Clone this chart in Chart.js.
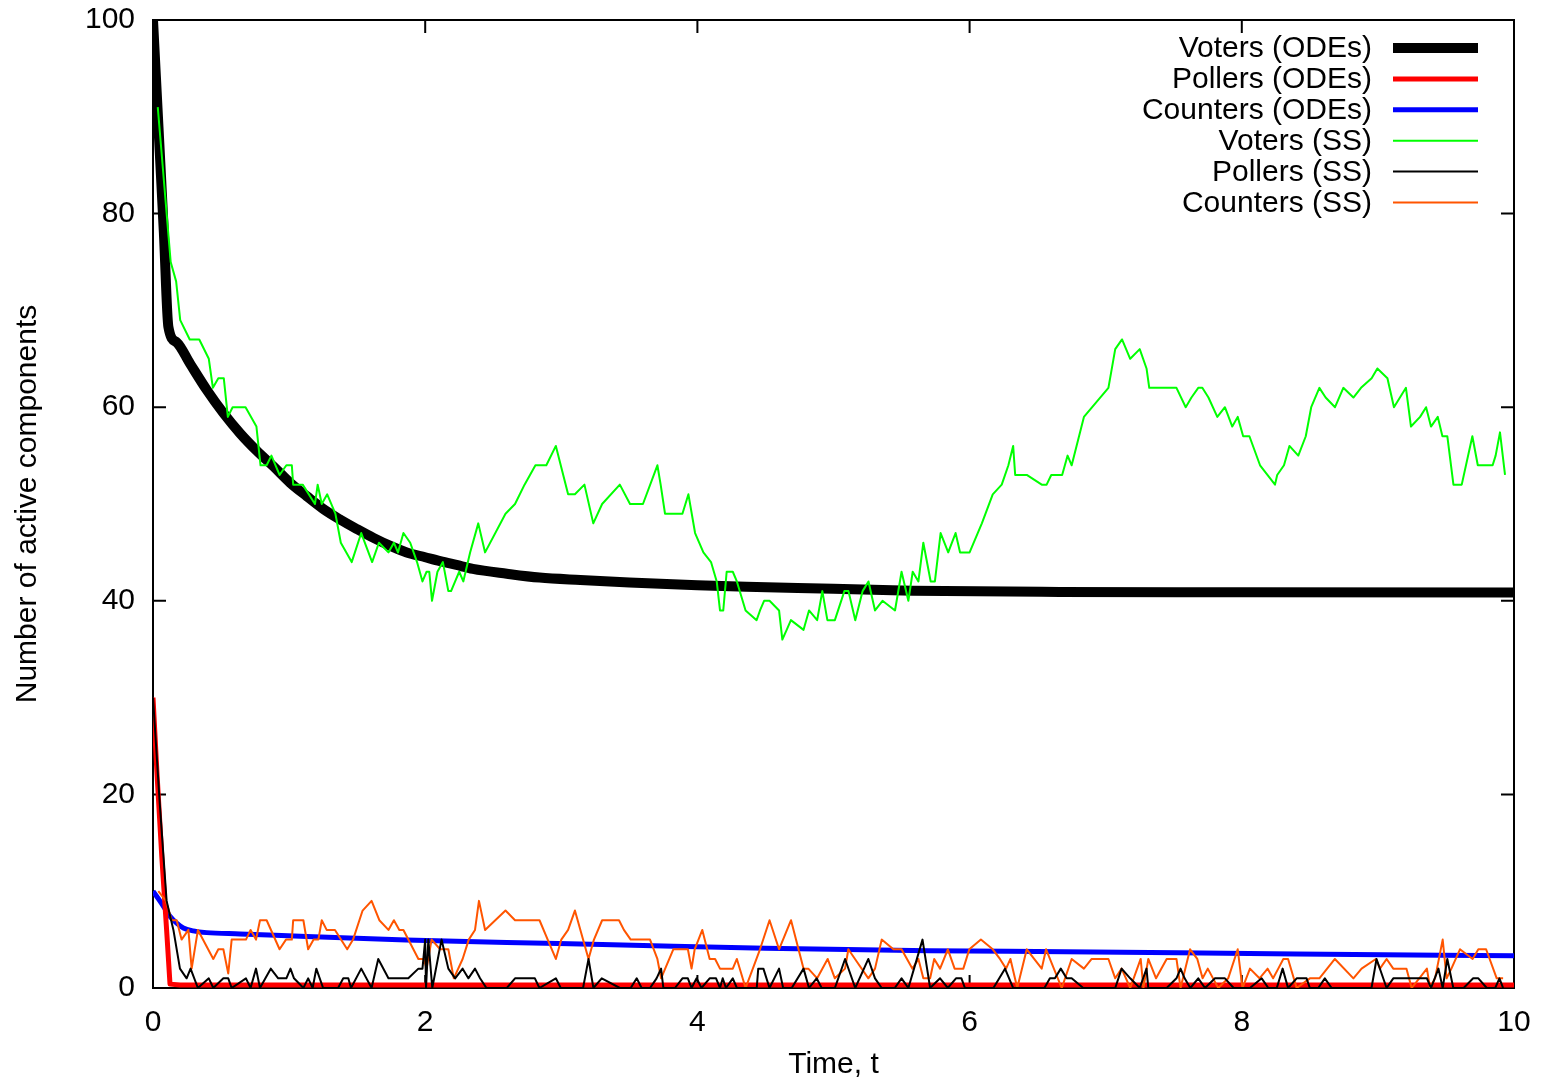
<!DOCTYPE html>
<html>
<head>
<meta charset="utf-8">
<script src="https://cdn.jsdelivr.net/npm/chart.js@4.4.1/dist/chart.umd.min.js"></script>
<style>
  html, body { margin: 0; padding: 0; background: #fff; }
  #wrap { width: 1546px; height: 1085px; }
</style>
</head>
<body>
<div id="wrap"><canvas id="c"></canvas></div>
<script>
// axis ticks
var xTicks = [0, 2, 4, 6, 8, 10];
var yTicks = [0, 20, 40, 60, 80, 100];

// ODE solutions, [time, value]
var votersOde = [[0,100],[0.04,89],[0.08,78],[0.113,68.3],[0.174,66.7],[0.272,64.5],[0.394,61.8],
  [0.517,59.4],[0.64,57.3],[0.762,55.5],[0.884,53.9],[1.007,52.2],[1.13,50.8],[1.25,49.5],[1.374,48.4],
  [1.5,47.4],[1.62,46.5],[1.74,45.7],[1.864,45.0],[2.0,44.5],[2.11,44.1],[2.23,43.7],[2.35,43.3],
  [2.6,42.8],[2.84,42.4],[3.14,42.15],[3.5,41.9],[4.0,41.6],[4.36,41.45],[5.0,41.25],[5.58,41.05],
  [6.66,40.92],[8,40.88],[10,40.85]];
var pollersOde = [[0,30],[0.03,22],[0.065,13.5],[0.1,6],[0.125,0.4],[0.2,0.3],[10,0.3]];
var countersOde = [[0,10],[0.06,8.8],[0.125,7.4],[0.174,6.7],[0.223,6.2],[0.296,5.9],[0.394,5.72],
  [0.64,5.59],[1.13,5.31],[1.86,4.97],[2.6,4.69],[3.3,4.5],[4.5,4.1],[5.7,3.86],[6.7,3.75],
  [8.4,3.51],[10,3.34]];

// stochastic simulation runs, [time, value]
var votersSS = [[0.035,91],[0.13,75],[0.17,73],[0.2,69],[0.27,67],[0.34,67],[0.41,65],[0.44,62],
  [0.48,63],[0.52,63],[0.55,59],[0.585,60],[0.68,60],[0.76,58],[0.79,54],[0.835,54],[0.87,55],
  [0.93,53],[0.98,54],[1.02,54],[1.03,52],[1.1,52],[1.19,50],[1.21,52],[1.24,50],[1.28,51],
  [1.34,49],[1.38,46],[1.46,44],[1.53,47],[1.61,44],[1.66,46],[1.73,45],[1.77,46],[1.8,45],
  [1.84,47],[1.89,46],[1.94,44],[1.98,42],[2.01,43],[2.03,43],[2.05,40],[2.09,43],[2.13,44],
  [2.17,41],[2.19,41],[2.22,42],[2.25,43],[2.28,42],[2.33,45],[2.39,48],[2.44,45],[2.59,49],
  [2.66,50],[2.73,52],[2.81,54],[2.89,54],[2.96,56],[3.05,51],[3.1,51],[3.17,52],[3.235,48],
  [3.3,50],[3.43,52],[3.505,50],[3.6,50],[3.706,54],[3.73,52],[3.762,49],[3.89,49],[3.934,51],
  [3.983,47],[4.044,45],[4.1,44],[4.142,42],[4.166,39],[4.19,39],[4.215,43],[4.26,43],[4.29,42],
  [4.354,39],[4.435,38],[4.46,39],[4.49,40],[4.53,40],[4.6,39],[4.624,36],[4.656,37],[4.687,38],
  [4.78,37],[4.82,39],[4.88,38],[4.918,41],[4.955,38],[5.01,38],[5.08,41],[5.11,41],[5.16,38],
  [5.214,41],[5.257,42],[5.305,39],[5.36,40],[5.452,39],[5.5,43],[5.55,40],[5.582,43],[5.624,42],
  [5.66,46],[5.714,42],[5.745,42],[5.787,47],[5.843,45],[5.897,47],[5.93,45],[6.0,45],[6.09,48],
  [6.17,51],[6.236,52],[6.285,54],[6.32,56],[6.335,53],[6.42,53],[6.53,52],[6.566,52],[6.6,53],
  [6.68,53],[6.72,55],[6.75,54],[6.84,59],[7.02,62],[7.07,66],[7.12,67],[7.18,65],[7.25,66],
  [7.3,64],[7.32,62],[7.52,62],[7.588,60],[7.63,61],[7.68,62],[7.71,62],[7.755,61],[7.82,59],
  [7.876,60],[7.93,58],[7.97,59],[8.01,57],[8.056,57],[8.134,54],[8.244,52],[8.26,53],[8.31,54],
  [8.35,56],[8.415,55],[8.47,57],[8.51,60],[8.57,62],[8.616,61],[8.685,60],[8.746,62],[8.82,61],
  [8.876,62],[8.954,63],[8.996,64],[9.07,63],[9.118,60],[9.206,62],[9.243,58],[9.31,59],[9.354,60],
  [9.39,58],[9.44,59],[9.474,57],[9.51,57],[9.555,52],[9.616,52],[9.694,57],[9.734,54],[9.843,54],
  [9.865,55],[9.897,57.4],[9.934,53]];
var pollersSS = [[0,30],[0.05,19],[0.1,9],[0.15,6],[0.198,2],[0.247,1],[0.276,2],[0.33,0],[0.41,1],
  [0.443,0],[0.517,1],[0.553,1],[0.578,0],[0.683,1],[0.717,0],[0.757,2],[0.786,0],[0.865,2],
  [0.92,1],[0.98,1],[1.01,2],[1.036,1],[1.105,0],[1.14,1],[1.173,0],[1.2,2],[1.25,0],[1.36,0],
  [1.398,1],[1.435,1],[1.455,0],[1.53,2],[1.606,0],[1.655,3],[1.73,1],[1.876,1],[1.95,2],[1.98,2],
  [2.0,5],[2.006,0],[2.023,5],[2.052,0],[2.12,5],[2.17,2],[2.22,1],[2.275,2],[2.317,1],[2.366,2],
  [2.403,1],[2.45,0],[2.6,0],[2.66,1],[2.806,1],[2.839,0],[2.96,1],[2.996,0],[3.16,0],[3.2,3],
  [3.236,0],[3.297,1],[3.43,0],[3.51,0],[3.554,1],[3.59,0],[3.652,0],[3.7,1],[3.733,2],[3.75,0],
  [3.835,0],[3.89,1],[3.93,1],[3.957,0],[3.994,1],[4.03,0],[4.09,1],[4.137,1],[4.166,0],[4.186,1],
  [4.21,0],[4.26,1],[4.29,0],[4.436,0],[4.447,2],[4.485,2],[4.53,0],[4.6,2],[4.63,0],[4.693,0],
  [4.78,2],[4.82,0],[4.876,1],[4.913,0],[5.01,0],[5.085,3],[5.16,0],[5.256,3],[5.305,1],[5.354,0],
  [5.45,0],[5.5,1],[5.55,0],[5.654,5],[5.71,0],[5.783,1],[5.84,0],[5.9,1],[5.94,1],[5.966,0],
  [6.175,0],[6.26,2],[6.32,0],[6.55,0],[6.59,1],[6.627,1],[6.67,2],[6.713,1],[6.75,1],[6.835,0],
  [7.07,0],[7.117,2],[7.18,1],[7.25,0],[7.3,2],[7.313,0],[7.448,0],[7.52,1],[7.55,2],[7.58,1],
  [7.622,0],[7.68,1],[7.73,0],[7.803,1],[7.876,1],[7.94,0],[8.06,0],[8.146,1],[8.195,0],[8.257,0],
  [8.3,2],[8.34,0],[8.403,1],[8.476,1],[8.5,0],[8.562,0],[8.61,1],[8.66,0],[8.953,0],[8.99,3],
  [9.064,0],[9.113,1],[9.36,1],[9.39,0],[9.445,2],[9.476,0],[9.51,3],[9.554,0],[9.63,0],[9.7,1],
  [9.738,1],[9.8,0],[9.862,0],[9.893,1],[9.92,0]];
var countersSS = [[0.039,10],[0.095,9],[0.137,7],[0.174,7],[0.21,5],[0.26,6],[0.284,2],[0.33,6],
  [0.443,3],[0.48,4],[0.517,4],[0.553,1.5],[0.578,5],[0.683,5],[0.717,6],[0.757,5],[0.786,7],
  [0.835,7],[0.93,4],[0.977,5],[1.02,5],[1.03,7],[1.105,7],[1.14,4],[1.18,5],[1.215,5],[1.24,7],
  [1.276,6],[1.337,6],[1.427,4],[1.47,5],[1.54,8],[1.606,9],[1.663,7],[1.73,6],[1.77,7],[1.81,6],
  [1.84,6],[1.95,3],[1.99,3],[2.01,2],[2.047,5],[2.11,4],[2.17,4],[2.21,1],[2.275,3],[2.32,5],
  [2.366,6],[2.395,9],[2.44,6],[2.59,8],[2.66,7],[2.84,7],[2.9,5],[2.96,3],[3.0,5],[3.05,6],
  [3.1,8],[3.2,3],[3.24,5],[3.3,7],[3.424,7],[3.46,6],[3.51,5],[3.652,5],[3.706,3],[3.733,1],
  [3.823,4],[3.93,4],[3.957,2],[3.98,4],[4.036,6],[4.09,3],[4.13,3],[4.166,2],[4.26,2],[4.29,3],
  [4.354,0],[4.46,4],[4.53,7],[4.6,4],[4.688,7],[4.78,2],[4.815,2],[4.88,1],[4.957,3],[5.01,1],
  [5.085,2],[5.109,4],[5.158,3],[5.256,1],[5.305,2],[5.354,5],[5.44,4],[5.5,4],[5.58,2],[5.624,3],
  [5.66,1],[5.71,1],[5.74,3],[5.783,2],[5.84,4],[5.89,2],[5.954,2],[5.998,4],[6.083,5],[6.17,4],
  [6.223,3],[6.268,2],[6.3,3],[6.35,0],[6.42,4],[6.53,2],[6.562,4],[6.677,0],[6.75,3],[6.84,2],
  [6.897,3],[7.02,3],[7.07,1],[7.117,2],[7.18,0],[7.257,3],[7.277,0],[7.313,3],[7.37,1],[7.448,3],
  [7.52,3],[7.55,0],[7.62,4],[7.673,3],[7.712,1],[7.75,2],[7.827,0],[7.9,1],[7.97,4],[8.005,0],
  [8.06,2],[8.13,1],[8.19,2],[8.23,1],[8.268,2],[8.305,3],[8.34,3],[8.403,0],[8.5,1],[8.57,1],
  [8.684,3],[8.82,1],[8.88,2],[8.985,3],[9.015,2],[9.064,3],[9.113,2],[9.21,2],[9.248,0],[9.36,2],
  [9.383,0],[9.42,1],[9.476,5],[9.505,1],[9.54,2],[9.603,4],[9.696,3],[9.738,4],[9.795,4],
  [9.873,1],[9.92,1]];

var FONT = '"Liberation Sans", Arial, Helvetica, sans-serif';
var FSIZE = 30;

function pts(arr) {
  return arr.map(function(p){ return {x: p[0], y: p[1]}; });
}

function series(label, arr, color, width, order, smooth) {
  return {
    label: label,
    data: pts(arr),
    borderColor: color,
    backgroundColor: color,
    borderWidth: width,
    pointRadius: 0,
    tension: 0,
    cubicInterpolationMode: smooth ? 'monotone' : 'default',
    fill: false,
    borderJoinStyle: 'round',
    order: order
  };
}

// border box and inside ticks, gnuplot style
var frame = {
  id: 'frame',
  beforeDatasetsDraw: function(chart) {
    var ctx = chart.ctx, a = chart.chartArea;
    var xs = chart.scales.x, ys = chart.scales.y;
    var len = 13;
    ctx.save();
    ctx.strokeStyle = '#000';
    ctx.lineWidth = 2;
    ctx.strokeRect(a.left, a.top, a.right - a.left, a.bottom - a.top);
    ctx.beginPath();
    xTicks.forEach(function(v){
      var px = xs.getPixelForValue(v);
      ctx.moveTo(px, a.bottom); ctx.lineTo(px, a.bottom - len);
      ctx.moveTo(px, a.top); ctx.lineTo(px, a.top + len);
    });
    yTicks.forEach(function(v){
      var py = ys.getPixelForValue(v);
      ctx.moveTo(a.left, py); ctx.lineTo(a.left + len, py);
      ctx.moveTo(a.right, py); ctx.lineTo(a.right - len, py);
    });
    ctx.stroke();
    ctx.restore();
  },
  afterDraw: function(chart) {
    // key in the top right corner: label, then line sample
    var ctx = chart.ctx;
    var textRight = 1372, x0 = 1393, x1 = 1478, y0 = 48, step = 30.9;
    ctx.save();
    ctx.font = FSIZE + 'px ' + FONT;
    ctx.textAlign = 'right';
    ctx.textBaseline = 'middle';
    chart.data.datasets.forEach(function(ds, i){
      var y = y0 + i * step;
      ctx.fillStyle = '#000';
      ctx.fillText(ds.label, textRight, y + 1);
      ctx.strokeStyle = ds.borderColor;
      ctx.lineWidth = ds.borderWidth;
      ctx.beginPath();
      ctx.moveTo(x0, y); ctx.lineTo(x1, y);
      ctx.stroke();
    });
    ctx.restore();
  }
};

new Chart(document.getElementById('c'), {
  type: 'line',
  data: {
    datasets: [
      series('Voters (ODEs)', votersOde, '#000000', 10, 3, true),
      series('Pollers (ODEs)', pollersOde, '#ff0000', 5, 3, false),
      series('Counters (ODEs)', countersOde, '#0000ff', 5, 3, true),
      series('Voters (SS)', votersSS, '#00ff00', 2, 2, false),
      series('Pollers (SS)', pollersSS, '#000000', 2, 1, false),
      series('Counters (SS)', countersSS, '#ff5500', 2, 1, false)
    ]
  },
  options: {
    responsive: true,
    maintainAspectRatio: false,
    animation: false,
    devicePixelRatio: 1,
    layout: { padding: { left: 0, right: 32, top: 20, bottom: 0 } },
    plugins: {
      legend: { display: false },
      tooltip: { enabled: false }
    },
    scales: {
      x: {
        type: 'linear',
        min: 0, max: 10,
        afterBuildTicks: function(s){ s.ticks = xTicks.map(function(v){ return {value: v}; }); },
        afterFit: function(s){ s.height = 97; s.paddingLeft = 0; s.paddingRight = 0; },
        grid: { display: false, drawTicks: false },
        border: { display: false },
        ticks: { padding: 17, color: '#000', font: { family: FONT, size: FSIZE } },
        title: { display: true, text: 'Time, t', color: '#000', padding: { top: 0, bottom: 2 },
                 font: { family: FONT, size: FSIZE } }
      },
      y: {
        type: 'linear',
        min: 0, max: 100,
        afterBuildTicks: function(s){ s.ticks = yTicks.map(function(v){ return {value: v}; }); },
        afterFit: function(s){ s.width = 153; s.paddingTop = 0; s.paddingBottom = 0; },
        grid: { display: false, drawTicks: false },
        border: { display: false },
        ticks: { padding: 18, color: '#000', font: { family: FONT, size: FSIZE } },
        title: { display: true, text: 'Number of active components', color: '#000',
                 padding: { top: 10, bottom: 0 }, font: { family: FONT, size: FSIZE } }
      }
    }
  },
  plugins: [frame]
});
</script>
</body>
</html>
